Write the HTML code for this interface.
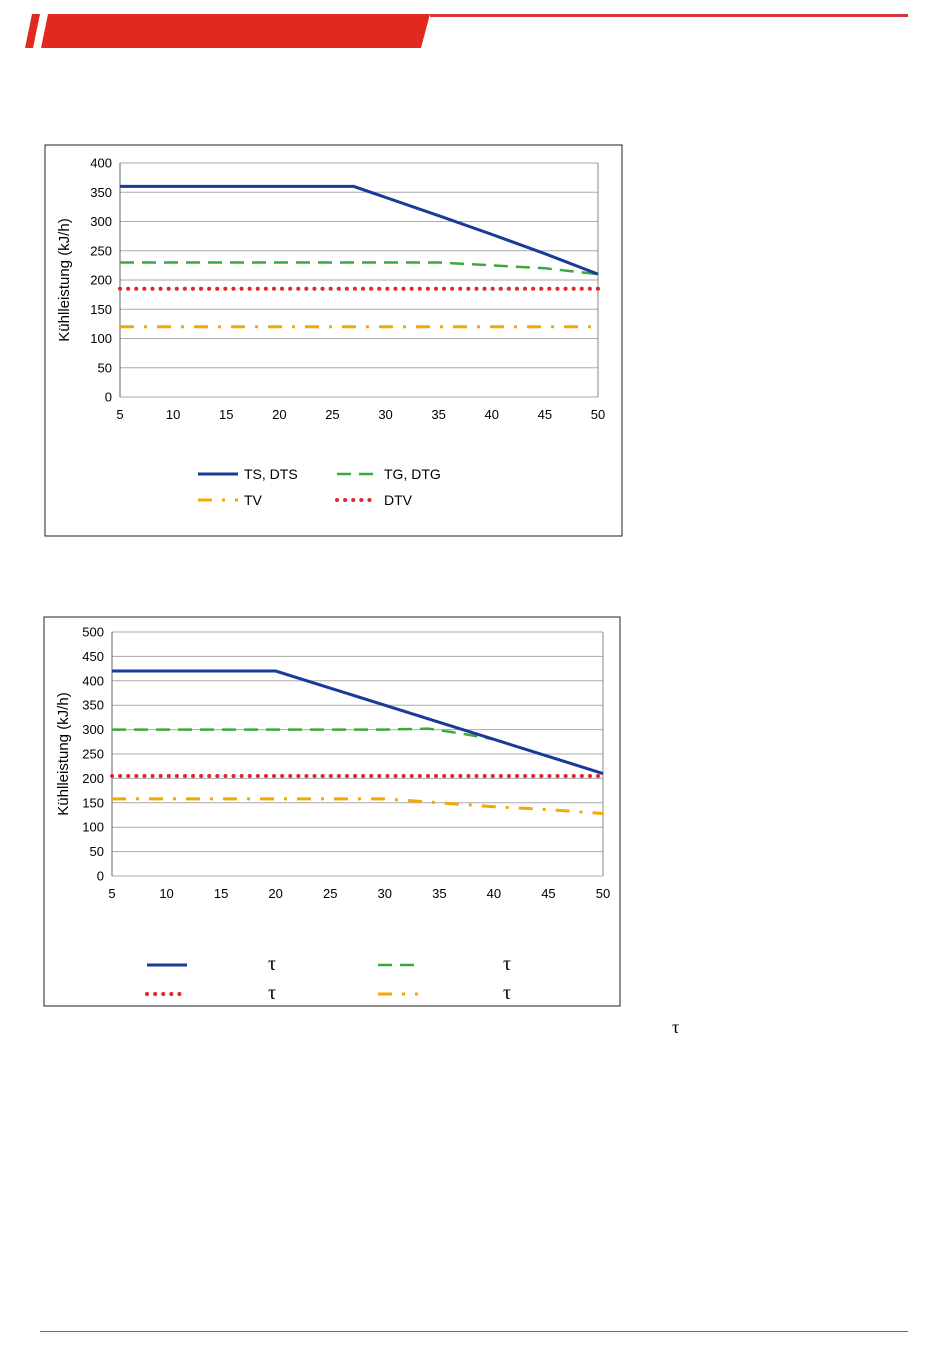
<!DOCTYPE html>
<html><head><meta charset="utf-8"><style>
body{margin:0;background:#fff;font-family:"Liberation Sans",sans-serif;}
svg{display:block}
</style></head><body>
<svg width="950" height="1369">
<g>
<polygon points="25,48 32,14 40,14 33,48" fill="#e1291f"/>
<polygon points="41,48 48,14 430,14 421,48" fill="#e1291f"/>
<rect x="430" y="14" width="478" height="3" fill="#d8353a"/>
</g>
<rect x="40" y="1331" width="868" height="1" fill="#d84040"/>
<text x="672" y="1033" font-family="Liberation Serif,serif" font-size="18">τ</text>
<g id="c1"></g>
<g id="c2"></g>
</svg>
<script>
const xTicks=[5,10,15,20,25,30,35,40,45,50];
const c1Yticks=[0,50,100,150,200,250,300,350,400];
const c1X=[5,27,35,40,45,50];
const c1TS=[360,360,310,278,245,210];
const c1TG=[230,230,230,225,220,210];
const c1DTV=[185,185,185,185,185,185];
const c1TV=[120,120,120,120,120,120];
const c2Yticks=[0,50,100,150,200,250,300,350,400,450,500];
const c2X=[5,20,30,35,40,45,50];
const c2TS=[420,420,350,315,280,245,210];
const c2TGX=[5,30,34,37,40];
const c2TG=[300,300,302,292,280];
const c2DTV=[205,205,205,205,205,205,205];
const c2TVX=[5,30,35,40,45,50];
const c2TV=[158,158,150,142,136,128];
const NS="http://www.w3.org/2000/svg";
function mk(p,t,a){const e=document.createElementNS(NS,t);for(const k in a)e.setAttribute(k,a[k]);p.appendChild(e);return e;}
const styles={
 ts:{stroke:"#1a3a9a","stroke-width":3,fill:"none"},
 tg:{stroke:"#3aaa3a","stroke-width":2.5,fill:"none","stroke-dasharray":"14,8"},
 dtv:{stroke:"#e02828","stroke-width":4,fill:"none","stroke-dasharray":"0.1,8","stroke-linecap":"round"},
 tv:{stroke:"#f5a800","stroke-width":3,fill:"none","stroke-dasharray":"14,10,3,10"}
};
function chart(g,box,pl,ymax,yticks,series,legend){
 mk(g,"rect",{x:box[0],y:box[1],width:box[2],height:box[3],fill:"#fff",stroke:"#222","stroke-width":1});
 const sx=v=>pl.x0+(v-5)/45*(pl.x1-pl.x0), sy=v=>pl.y1-v/ymax*(pl.y1-pl.y0);
 yticks.forEach(t=>{const l=mk(g,"line",{x1:pl.x0,x2:pl.x1,y1:sy(t),y2:sy(t),stroke:"#aaa","stroke-width":1});
  
  
  const tx=mk(g,"text",{x:pl.x0-8,y:sy(t)+4.5,"text-anchor":"end","font-size":13});tx.textContent=t;
  
  });
 mk(g,"line",{x1:pl.x1,x2:pl.x1,y1:pl.y0,y2:pl.y1,stroke:"#888"});
 mk(g,"line",{x1:pl.x0,x2:pl.x0,y1:pl.y0,y2:pl.y1,stroke:"#666"});
 xTicks.forEach(t=>{const tx=mk(g,"text",{x:sx(t),y:pl.y1+22,"text-anchor":"middle","font-size":13});tx.textContent=t;
  
  });
 const yt=mk(g,"text",{transform:`translate(${box[0]+24},${(pl.y0+pl.y1)/2}) rotate(-90)`,"text-anchor":"middle","font-size":15});
 yt.textContent="Kühlleistung (kJ/h)";
 
 
 series.forEach(s=>{const p=mk(g,"polyline",Object.assign({points:s.x.map((v,i)=>sx(v)+","+sy(s.y[i])).join(" ")},styles[s.k]));
  
  });
 legend.forEach(L=>{const l=mk(g,"line",Object.assign({x1:L.x,x2:L.x+40,y1:L.y,y2:L.y},styles[L.k]));
  
  
  const t=mk(g,"text",{x:L.tx,y:L.y+5,"font-size":L.serif?20:14,"font-family":L.serif?"Liberation Serif,serif":"Liberation Sans,sans-serif"});t.textContent=L.t;
  
  });
}
chart(document.getElementById('c1'),[45,145,577,391],{x0:120,x1:598,y0:163,y1:397},400,c1Yticks,
 [{k:"tg",x:c1X,y:c1TG},{k:"dtv",x:c1X,y:c1DTV},{k:"tv",x:c1X,y:c1TV},{k:"ts",x:c1X,y:c1TS}],
 [{k:"ts",x:198,y:474,tx:244,t:"TS, DTS"},{k:"tg",x:337,y:474,tx:384,t:"TG, DTG"},
  {k:"tv",x:198,y:500,tx:244,t:"TV"},{k:"dtv",x:337,y:500,tx:384,t:"DTV"}]);
chart(document.getElementById('c2'),[44,617,576,389],{x0:112,x1:603,y0:632,y1:876},500,c2Yticks,
 [{k:"tg",x:c2TGX,y:c2TG},{k:"dtv",x:c2X,y:c2DTV},{k:"tv",x:c2TVX,y:c2TV},{k:"ts",x:c2X,y:c2TS}],
 [{k:"ts",x:147,y:965,tx:268,t:"τ",serif:1},{k:"tg",x:378,y:965,tx:503,t:"τ",serif:1},
  {k:"dtv",x:147,y:994,tx:268,t:"τ",serif:1},{k:"tv",x:378,y:994,tx:503,t:"τ",serif:1}]);
</script>
</body></html>
